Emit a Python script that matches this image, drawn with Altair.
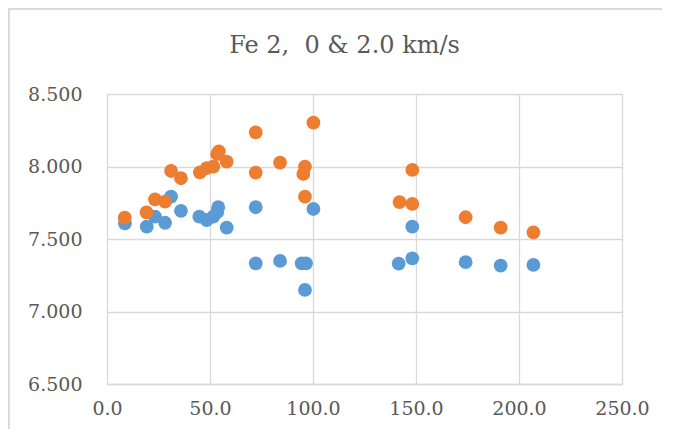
import altair as alt
import pandas as pd

series_names = ["0 km/s", "2.0 km/s"]
title_text = ["Fe 2,\u00a0 0 & 2.0 km/s"]

blue_x = [8.7, 19.3, 23.3, 28.2, 31.1, 35.9, 44.8, 48.4, 51.6, 53.5, 54.0, 58.1,
          72.2, 72.2, 84.0, 94.5, 96.6, 96.1, 100.2, 141.6, 148.2, 148.2, 174.1, 191.1, 207.0]
blue_y = [7.608, 7.585, 7.654, 7.612, 7.792, 7.694, 7.654, 7.631, 7.654, 7.685, 7.719, 7.578,
          7.719, 7.332, 7.349, 7.332, 7.332, 7.149, 7.707, 7.330, 7.585, 7.367, 7.340, 7.317, 7.321]

orange_x = [8.6, 19.2, 23.3, 28.2, 31.1, 35.9, 45.1, 48.4, 51.6, 53.5, 54.3, 58.1,
            72.2, 72.2, 84.0, 95.3, 96.1, 96.1, 100.2, 142.0, 148.2, 148.2, 174.1, 191.1, 207.0]
orange_y = [7.647, 7.684, 7.774, 7.758, 7.969, 7.919, 7.960, 7.988, 7.999, 8.085, 8.105, 8.033,
            7.958, 8.236, 8.027, 7.949, 7.999, 7.792, 8.302, 7.755, 7.976, 7.742, 7.650, 7.578, 7.546]

x_ticks = [0, 50, 100, 150, 200, 250]
y_ticks = [6.5, 7.0, 7.5, 8.0, 8.5]

df = pd.concat([
    pd.DataFrame({"x": blue_x, "y": blue_y, "s": series_names[0]}),
    pd.DataFrame({"x": orange_x, "y": orange_y, "s": series_names[1]}),
])
title_df = pd.DataFrame({"t": title_text})

FONT = "DejaVu Serif"
GRID = "#d9d9d9"
TXT = "#595959"

points = alt.Chart(df).mark_circle(size=190, opacity=1).encode(
    x=alt.X("x:Q", scale=alt.Scale(domain=[0, 250], nice=False),
            axis=alt.Axis(values=x_ticks, format=".1f", title=None, grid=True,
                          gridColor=GRID, gridWidth=1.3, domainColor=GRID, domainWidth=1.5,
                          ticks=False, labelPadding=15, labelFont=FONT, labelFontSize=19,
                          labelColor=TXT, labelFlush=False)),
    y=alt.Y("y:Q", scale=alt.Scale(domain=[6.5, 8.5], nice=False, zero=False),
            axis=alt.Axis(values=y_ticks, format=".3f", title=None, grid=True,
                          gridColor=GRID, gridWidth=1.3, domain=False,
                          ticks=False, labelPadding=25, labelFont=FONT, labelFontSize=19,
                          labelColor=TXT, labelFlush=False)),
    color=alt.Color("s:N", scale=alt.Scale(domain=series_names, range=["#5b9bd5", "#ed7d31"]),
                    legend=None),
    order=alt.Order("s:N"),
)

title = alt.Chart(title_df).mark_text(font=FONT, fontSize=24, color=TXT, align="center",
                                      baseline="middle").encode(
    text="t:N", x=alt.value(237.5), y=alt.value(-48)
)

border = alt.Chart(df).mark_rule(color=GRID, strokeWidth=1.5).encode(
    x=alt.value(-98.5), y=alt.value(-86), y2=alt.value(400)
)
border_top = alt.Chart(df).mark_rule(color=GRID, strokeWidth=1.5).encode(
    x=alt.value(-98.5), x2=alt.value(600), y=alt.value(-85.5)
)

chart = alt.layer(border, border_top, title, points).properties(
    width=515, height=290,
    autosize=alt.AutoSizeParams(type="none"),
    padding={"left": 99, "top": 86, "right": 40, "bottom": 45},
).configure_view(stroke=None).configure(background="white")

chart.save("out.html", embed_options={"renderer": "svg", "actions": False})
